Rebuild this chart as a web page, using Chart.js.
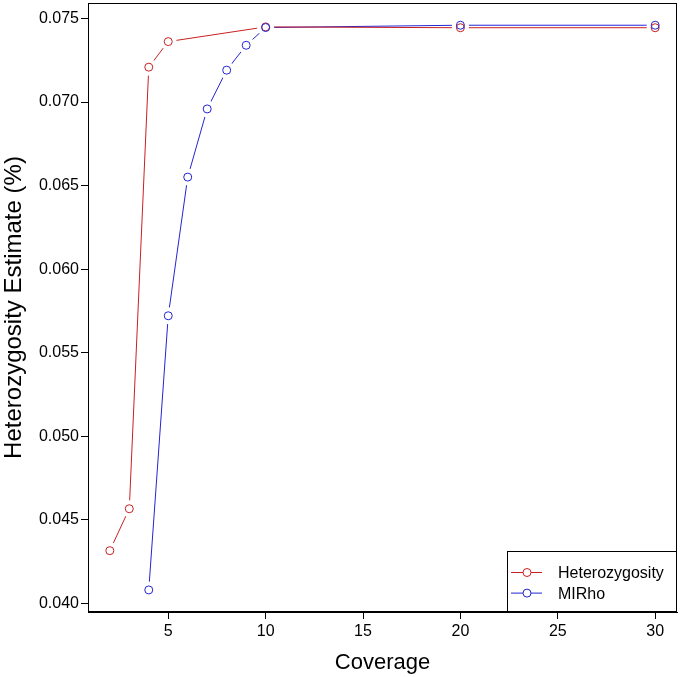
<!DOCTYPE html>
<html><head><meta charset="utf-8">
<script src="https://cdn.jsdelivr.net/npm/chart.js@4/dist/chart.umd.min.js"></script>
<style>html,body{margin:0;padding:0;background:#fff}#wrap{width:680px;height:677px;position:relative}</style>
</head><body><div id="wrap"><canvas id="c"></canvas></div>
<script>
// ---- data ----
const hetCoverage = [2, 3, 4, 5, 10, 20, 30];
const hetValues   = [0.04315, 0.04566, 0.07209, 0.07362, 0.07450, 0.07445, 0.07445];
const mlCoverage  = [4, 5, 6, 7, 8, 9, 10, 20, 30];
const mlValues    = [0.04080, 0.05721, 0.06551, 0.06959, 0.07191, 0.07340, 0.07446, 0.07460, 0.07460];
const seriesNames = ['Heterozygosity', 'MIRho'];
const xTickValues = [5, 10, 15, 20, 25, 30];
const yTickValues = [0.040, 0.045, 0.050, 0.055, 0.060, 0.065, 0.070, 0.075];
const xTitle = 'Coverage';
const yTitle = 'Heterozygosity Estimate (%)';

const RED = '#C82020';
const BLUE = '#2424D6';
const FONT = '"Liberation Sans", Arial, Helvetica, sans-serif';
Chart.defaults.font.family = FONT;
Chart.defaults.color = '#000';

const toPts = (xs, ys) => xs.map((x, i) => ({x: x, y: ys[i]}));
const hetPts = toPts(hetCoverage, hetValues);
const mlPts = toPts(mlCoverage, mlValues);

const pointDs = (label, pts, color, order) => ({
  label, data: pts, showLine: false, order,
  pointRadius: 4, pointHoverRadius: 4, pointBorderWidth: 1,
  pointBorderColor: color, pointBackgroundColor: 'rgba(0,0,0,0)', borderColor: color
});
const maskDs = (label, pts) => ({
  label, data: pts, showLine: false, order: 2,
  pointRadius: 8.5, pointHoverRadius: 8.5, pointBorderWidth: 0,
  pointBackgroundColor: '#fff', pointBorderColor: '#fff', borderColor: '#fff'
});
const lineDs = (label, pts, color) => ({
  label, data: pts, showLine: true, order: 3, tension: 0,
  borderColor: color, borderWidth: 1, pointRadius: 0, pointHoverRadius: 0, fill: false
});

const boxPlugin = {
  id: 'box',
  afterDraw(chart) {
    const {ctx, chartArea: a} = chart;
    ctx.save();
    ctx.strokeStyle = '#000'; ctx.lineWidth = 1;
    ctx.strokeRect(Math.round(a.left) + 0.5, Math.round(a.top) + 0.5,
                   Math.round(a.right - a.left) - 1, Math.round(a.bottom - a.top) - 1);
    ctx.restore();
  }
};

const legendPlugin = {
  id: 'rlegend',
  afterDraw(chart) {
    const {ctx, chartArea: a} = chart;
    const entries = [
      {label: seriesNames[0], color: RED},
      {label: seriesNames[1], color: BLUE}
    ];
    const w = 170, h = 61;
    const x0 = Math.round(a.right) - w, y0 = Math.round(a.bottom) - h;
    ctx.save();
    ctx.fillStyle = '#fff';
    ctx.fillRect(x0, y0, w, h);
    ctx.strokeStyle = '#000'; ctx.lineWidth = 1;
    ctx.strokeRect(x0 + 0.5, y0 + 0.5, w - 1, h - 1);
    ctx.font = '16px ' + FONT;
    ctx.textBaseline = 'middle';
    ctx.textAlign = 'left';
    entries.forEach((e, i) => {
      const yy = y0 + 21.5 + i * 20.6;
      ctx.strokeStyle = e.color; ctx.lineWidth = 1;
      ctx.beginPath(); ctx.moveTo(x0 + 4, yy); ctx.lineTo(x0 + 35, yy); ctx.stroke();
      ctx.fillStyle = '#fff';
      ctx.beginPath(); ctx.arc(x0 + 20, yy, 4, 0, Math.PI * 2); ctx.fill(); ctx.stroke();
      ctx.fillStyle = '#000';
      ctx.fillText(e.label, x0 + 51, yy + 1);
    });
    ctx.restore();
  }
};

const noPad = s => { s.paddingTop = 0; s.paddingBottom = 0; s.paddingLeft = 0; s.paddingRight = 0; };

new Chart(document.getElementById('c'), {
  type: 'scatter',
  data: {
    datasets: [
      pointDs(seriesNames[0], hetPts, RED, 1),
      pointDs(seriesNames[1], mlPts, BLUE, 0),
      maskDs('m1', hetPts),
      maskDs('m2', mlPts),
      lineDs('l1', hetPts, RED),
      lineDs('l2', mlPts, BLUE)
    ]
  },
  options: {
    responsive: true, maintainAspectRatio: false, animation: false,
    layout: {autoPadding: false, padding: {top: 3, right: 3, left: 0, bottom: 0}},
    plugins: {legend: {display: false}, tooltip: {enabled: false}},
    events: [],
    scales: {
      x: {
        type: 'linear', min: 0.88, max: 31.12,
        afterBuildTicks: s => { s.ticks = xTickValues.map(v => ({value: v})); },
        afterFit: s => { s.height = 65; noPad(s); },
        ticks: {font: {size: 16}, padding: 3, maxRotation: 0, callback: v => String(v)},
        grid: {display: true, drawOnChartArea: false, drawTicks: true, tickLength: 7, color: '#000', lineWidth: 1},
        border: {display: true, color: '#000', width: 1},
        title: {display: true, text: xTitle, font: {size: 22}, padding: {top: 0, bottom: 1}}
      },
      y: {
        type: 'linear', min: 0.03948, max: 0.07593,
        afterBuildTicks: s => { s.ticks = yTickValues.map(v => ({value: v})); },
        afterFit: s => { s.width = 88; noPad(s); },
        ticks: {font: {size: 16}, padding: 2, callback: v => Number(v).toFixed(3)},
        grid: {display: true, drawOnChartArea: false, drawTicks: true, tickLength: 7, color: '#000', lineWidth: 1},
        border: {display: true, color: '#000', width: 1},
        title: {display: true, text: yTitle, font: {size: 24}, padding: {top: 0, bottom: 0}}
      }
    }
  },
  plugins: [boxPlugin, legendPlugin]
});
</script>
</body></html>
